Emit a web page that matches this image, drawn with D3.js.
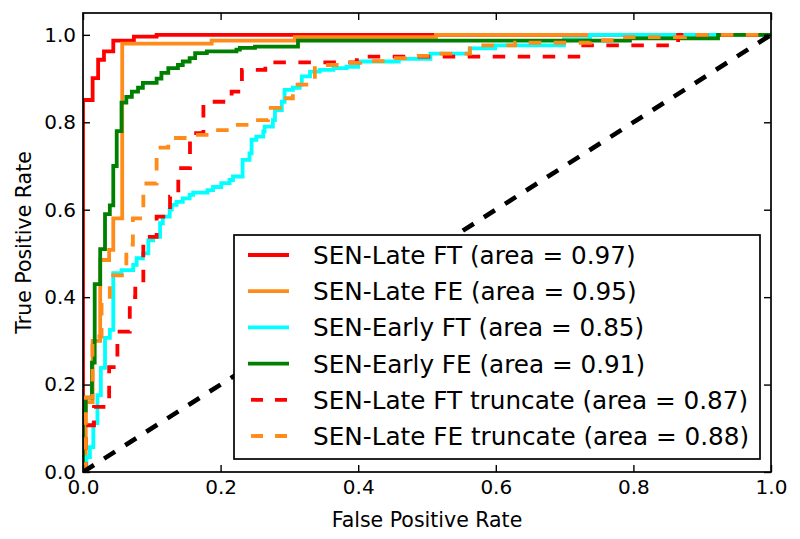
<!DOCTYPE html>
<html lang="en">
<head>
<meta charset="UTF-8">
<title>ROC</title>
<script src="https://d3js.org/d3.v7.min.js"></script>
<style>
  body { margin: 0; background: #fff; }
  text { font-family: "DejaVu Sans", sans-serif; }
</style>
</head>
<body>
<script>
// each point = [fpr where the horizontal run ends, tpr of that run] (drawn with curveStepBefore)
const lateFt = [[0,0],[0.014,0.851],[0.022,0.901],[0.0305,0.943],[0.044,0.962],[0.074,0.987],[0.107,0.996],[1,1]];
const lateFe = [[0,0],[0.004,0.03],[0.014,0.16],[0.025,0.30],[0.038,0.485],[0.044,0.508],[0.057,0.58],
                [0.187,0.98],[0.308,0.987],[0.513,0.995],[1,1]];
const earlyFt = [[0,0],[0.005,0.01],[0.01,0.034],[0.015,0.057],[0.021,0.112],[0.026,0.176],[0.032,0.238],
                 [0.039,0.307],[0.044,0.325],[0.056,0.455],[0.073,0.462],[0.078,0.474],[0.087,0.489],
                 [0.095,0.50],[0.102,0.53],[0.112,0.538],[0.116,0.569],[0.126,0.584],[0.129,0.60],
                 [0.136,0.611],[0.145,0.618],[0.155,0.626],[0.160,0.634],[0.181,0.639],[0.189,0.645],
                 [0.201,0.652],[0.213,0.661],[0.218,0.668],[0.232,0.676],[0.242,0.714],[0.245,0.729],
                 [0.252,0.76],[0.262,0.767],[0.264,0.779],[0.276,0.79],[0.279,0.805],[0.289,0.828],
                 [0.293,0.847],[0.305,0.874],[0.315,0.879],[0.318,0.886],[0.330,0.905],[0.344,0.916],
                 [0.364,0.92],[0.383,0.924],[0.400,0.927],[0.459,0.939],[0.505,0.945],[0.562,0.957],
                 [0.599,0.969],[0.699,0.976],[0.737,0.99],[1,1]];
const earlyFe = [[0,0],[0.004,0.14],[0.013,0.17],[0.017,0.25],[0.025,0.43],[0.032,0.51],[0.039,0.59],
                 [0.044,0.61],[0.049,0.70],[0.056,0.78],[0.063,0.845],[0.071,0.858],[0.080,0.87],
                 [0.087,0.879],[0.107,0.89],[0.114,0.90],[0.124,0.913],[0.138,0.924],[0.145,0.931],
                 [0.155,0.939],[0.163,0.947],[0.18,0.958],[0.223,0.962],[0.228,0.966],[0.25,0.97],
                 [0.3125,0.973],[0.795,0.987],[0.923,0.992],[1,1]];
const lateFtTrunc = [[0,0],[0.004,0],[0.016,0.107],[0.038,0.149],[0.05,0.24],[0.068,0.321],[0.076,0.40],
                     [0.0877,0.43],[0.107,0.538],[0.1265,0.584],[0.1385,0.63],[0.1555,0.695],[0.175,0.775],
                     [0.216,0.847],[0.231,0.87],[0.265,0.92],[0.398,0.937],[0.724,0.95],[0.865,0.976],[1,1]];
const lateFeTrunc = [[0,0],[0.004,0],[0.0138,0.17],[0.027,0.31],[0.039,0.39],[0.063,0.45],[0.0725,0.52],
                     [0.0877,0.58],[0.107,0.66],[0.124,0.742],[0.155,0.764],[0.185,0.771],[0.214,0.782],
                     [0.243,0.794],[0.269,0.805],[0.286,0.833],[0.305,0.855],[0.337,0.886],[0.374,0.931],
                     [0.403,0.936],[0.44,0.94],[0.468,0.947],[0.504,0.952],[0.5625,0.957],[0.628,0.976],
                     [0.737,0.982],[0.773,0.988],[0.875,0.995],[1,1]];
const chance = [[0,0],[1,1]];

const seriesNames = ["SEN-Late FT (area = 0.97)", "SEN-Late FE (area = 0.95)", "SEN-Early FT (area = 0.85)",
                     "SEN-Early FE (area = 0.91)", "SEN-Late FT truncate (area = 0.87)", "SEN-Late FE truncate (area = 0.88)"];
const seriesData = [lateFt, lateFe, earlyFt, earlyFe, lateFtTrunc, lateFeTrunc];
const colors = ["#ff0000", "#ff8c1a", "#00ffff", "#008000", "#ff0000", "#ff8c1a"];
const dashed = [false, false, false, false, true, true];
const ticks = [0, 0.2, 0.4, 0.6, 0.8, 1.0];

const w = 800, h = 539;
const pLeft = 83, pRight = 771, pTop = 13, pBottom = 472;

const x = d3.scaleLinear().domain([0, 1]).range([pLeft, pRight]);
const y = d3.scaleLinear().domain([0, 1.05]).range([pBottom, pTop]);

const svg = d3.select("body").append("svg")
    .attr("width", w).attr("height", h);

svg.append("defs").append("clipPath").attr("id", "clip")
  .append("rect")
    .attr("x", pLeft).attr("y", pTop)
    .attr("width", pRight - pLeft).attr("height", pBottom - pTop);

const line = d3.line()
    .x(d => x(d[0]))
    .y(d => y(d[1]))
    .curve(d3.curveStepBefore);

const plot = svg.append("g").attr("clip-path", "url(#clip)");

seriesData.forEach((data, i) => {
  plot.append("path")
      .datum(data)
      .attr("fill", "none")
      .attr("stroke", colors[i])
      .attr("stroke-width", 3.8)
      .attr("stroke-dasharray", dashed[i] ? "12.5,12.5" : null)
      .attr("d", line);
});

plot.append("path")
    .datum(chance)
    .attr("fill", "none")
    .attr("stroke", "#000")
    .attr("stroke-width", 4.6)
    .attr("stroke-dasharray", "13,12")
    .attr("d", d3.line().x(d => x(d[0])).y(d => y(d[1])));

// axes, ticks pointing inward on all sides
const fmt = d3.format(".1f");
const tickLen = 7;

const gx = svg.append("g")
    .attr("transform", "translate(0," + pBottom + ")")
    .call(d3.axisBottom(x).tickValues(ticks).tickFormat(fmt).tickSizeInner(-tickLen).tickSizeOuter(0).tickPadding(8));
const gy = svg.append("g")
    .attr("transform", "translate(" + pLeft + ",0)")
    .call(d3.axisLeft(y).tickValues(ticks).tickFormat(fmt).tickSizeInner(-tickLen).tickSizeOuter(0).tickPadding(7));
const gt = svg.append("g")
    .attr("transform", "translate(0," + pTop + ")")
    .call(d3.axisTop(x).tickValues(ticks).tickFormat("").tickSizeInner(-tickLen).tickSizeOuter(0));
const gr = svg.append("g")
    .attr("transform", "translate(" + pRight + ",0)")
    .call(d3.axisRight(y).tickValues(ticks).tickFormat("").tickSizeInner(-tickLen).tickSizeOuter(0));

[gx, gy, gt, gr].forEach(g => {
  g.select(".domain").remove();
  g.selectAll(".tick line").attr("stroke", "#000").attr("stroke-width", 1.4);
  g.selectAll(".tick text")
      .attr("fill", "#000")
      .style("font-family", "DejaVu Sans")
      .style("font-size", "20px");
});

// legend
const lg = svg.append("g");
lg.append("rect")
    .attr("x", 234).attr("y", 235)
    .attr("width", 526).attr("height", 224)
    .attr("fill", "#fff")
    .attr("stroke", "#000")
    .attr("stroke-width", 1.7);

seriesNames.forEach((name, i) => {
  const cy = 255 + i * 36.2;
  lg.append("line")
      .attr("x1", 248).attr("x2", 289)
      .attr("y1", cy).attr("y2", cy)
      .attr("stroke", colors[i])
      .attr("stroke-width", 3.8)
      .attr("stroke-dasharray", dashed[i] ? "12,12" : null)
      .attr("stroke-dashoffset", dashed[i] ? 21 : null);
  lg.append("text")
      .attr("x", 313).attr("y", cy + 9)
      .style("font-size", "24.7px")
      .text(name);
});

// frame
svg.append("rect")
    .attr("x", pLeft).attr("y", pTop)
    .attr("width", pRight - pLeft).attr("height", pBottom - pTop)
    .attr("fill", "none")
    .attr("stroke", "#000")
    .attr("stroke-width", 1.7);

svg.append("text")
    .attr("x", (pLeft + pRight) / 2).attr("y", 527)
    .attr("text-anchor", "middle")
    .style("font-size", "20.5px")
    .text("False Positive Rate");

svg.append("text")
    .attr("transform", "translate(31," + ((pTop + pBottom) / 2) + ") rotate(-90)")
    .attr("text-anchor", "middle")
    .style("font-size", "20.5px")
    .text("True Positive Rate");
</script>
</body>
</html>
